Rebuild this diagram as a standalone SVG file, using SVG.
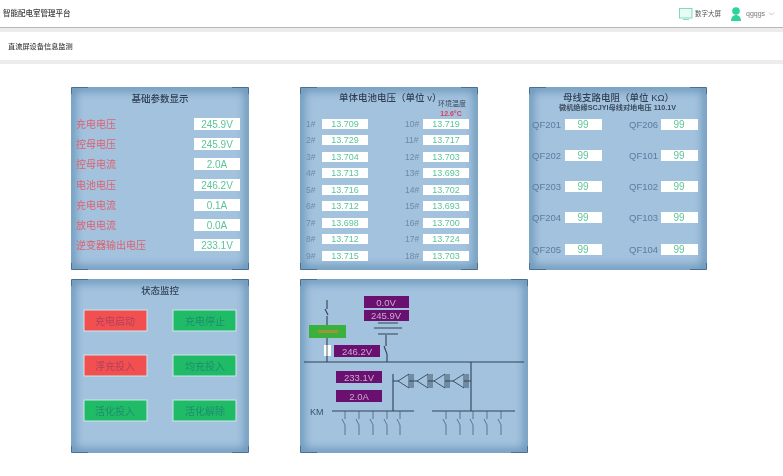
<svg xmlns="http://www.w3.org/2000/svg" width="783" height="476" viewBox="0 0 783 476">
<style>
text{font-family:"Liberation Sans","Noto Sans CJK SC",sans-serif;filter:blur(.25px)}
.nav{font-size:7.5px;fill:#3c3c3c;font-weight:500}
.pt{font-size:9.500px;fill:#2f3f52;font-weight:500}
.m{text-anchor:middle}
.lab{font-size:10px;fill:#e0606f}
.box{fill:#fff}
.val{font-size:10px;fill:#5cc49a;text-anchor:middle}
.v9{font-size:9px;fill:#5cc49a;text-anchor:middle}
.n{font-size:8.500px;fill:#6f8aa5}
.qf{font-size:9.500px;fill:#5a7c9e}
.btn{stroke:#cfe6e6;stroke-width:1}
.bt{font-size:10px;text-anchor:middle}
.pb{fill:#6a1070}
.pv{font-size:9.500px;fill:#cbaace;text-anchor:middle}
.l{fill:none;stroke:#2f4256;stroke-width:1.100}
.t{fill:#a3c2de;stroke:#33475a;stroke-width:.9}
.bar{fill:none;stroke:#33475a;stroke-width:.9}
.sw{fill:none;stroke:#4a6078;stroke-width:.8}
.pn{fill:#a3c2de}
.sh{fill:none;stroke:#5a8ab0;stroke-width:7}
.cr{fill:none;stroke:#4c6f90;stroke-width:1}
</style>
<defs>
<filter id="b" x="-20%" y="-20%" width="140%" height="140%"><feGaussianBlur stdDeviation="5"/></filter>
<clipPath id="c1"><rect x="71" y="87" width="178" height="183" rx="3"/></clipPath>
<clipPath id="c2"><rect x="300" y="87" width="178" height="183" rx="3"/></clipPath>
<clipPath id="c3"><rect x="529" y="87" width="178" height="183" rx="3"/></clipPath>
<clipPath id="c4"><rect x="71" y="279" width="178" height="174" rx="3"/></clipPath>
<clipPath id="c5"><rect x="300" y="279" width="228" height="174" rx="3"/></clipPath>
<g id="sw1"><path class="sw" d="M0 0V8M-3 8 0 14V24"/></g>
<g id="di"><path class="t" d="M0 7 11 0V14Z"/><path class="bar" d="M13 0V14M15 0V14"/></g>
</defs>
<rect width="783" height="476" fill="#fff"/>
<g id="header">
<rect y="27" width="783" height="1" fill="#b5b8b8"/>
<rect y="28" width="783" height="4" fill="#ececec"/>
<rect y="60" width="783" height="4" fill="#ececec"/>
<text x="3" y="16" class="nav">智能配电室管理平台</text>
<text x="8" y="49" class="nav" style="font-size:7.200px">直流屏设备信息监测</text>
<rect x="679.500" y="8.500" width="12.500" height="9.500" fill="#eafaf5" stroke="#5fd4b8" stroke-width=".8"/>
<path d="M683 19.500h6" stroke="#5fd4b8" stroke-width=".8"/>
<text x="695" y="15.500" style="font-size:6.500px;fill:#555">数字大屏</text>
<circle cx="736" cy="11" r="3.800" fill="#2ed39a"/>
<path d="M731 21c0-8 10-8 10 0Z" fill="#2ed39a"/>
<text x="746" y="15.500" style="font-size:7px;fill:#777">qgqgs</text>
<path d="M769 12.500l2.500 2.500 2.500-2.500" fill="none" stroke="#aaa" stroke-width=".7"/>
</g>
<g id="panel-basic">
<rect class="pn" x="71" y="87" width="178" height="183" rx="3"/>
<g clip-path="url(#c1)"><rect class="sh" x="71" y="87" width="178" height="183" filter="url(#b)"/></g>
<path class="cr" d="M71.500 94V87.500H88M232 87.500H248.500V94M71.500 263V269.500H88M232 269.500H248.500V263"/>
<text x="160" y="101.500" class="pt m">基础参数显示</text>
<g class="lab"><text x="76" y="128">充电电压</text><text x="76" y="148">控母电压</text><text x="76" y="168">控母电流</text><text x="76" y="189">电池电压</text><text x="76" y="209">充电电流</text><text x="76" y="229">放电电流</text><text x="76" y="249">逆变器输出电压</text></g>
<rect class="box" x="194" y="118" width="46" height="12"/><rect class="box" x="194" y="138" width="46" height="12"/><rect class="box" x="194" y="158" width="46" height="12"/><rect class="box" x="194" y="179" width="46" height="12"/><rect class="box" x="194" y="199" width="46" height="12"/><rect class="box" x="194" y="219" width="46" height="12"/><rect class="box" x="194" y="239" width="46" height="12"/>
<text x="217" y="128" class="val">245.9V</text><text x="217" y="148" class="val">245.9V</text><text x="217" y="168" class="val">2.0A</text><text x="217" y="189" class="val">246.2V</text><text x="217" y="209" class="val">0.1A</text><text x="217" y="229" class="val">0.0A</text><text x="217" y="249" class="val">233.1V</text>
</g>
<g id="panel-cells">
<rect class="pn" x="300" y="87" width="178" height="183" rx="3"/>
<g clip-path="url(#c2)"><rect class="sh" x="300" y="87" width="178" height="183" filter="url(#b)"/></g>
<path class="cr" d="M300.500 94V87.500H317M461 87.500H477.500V94M300.500 263V269.500H317M461 269.500H477.500V263"/>
<text x="339" y="101" class="pt">单体电池电压（单位 v）</text>
<text x="452" y="106" style="font-size:7px;fill:#3a4a5c;text-anchor:middle">环境温度</text>
<text x="451" y="116" style="font-size:7px;font-weight:bold;fill:#d8405a;text-anchor:middle">12.6°C</text>
<g class="n"><text x="306" y="127">1#</text><text x="306" y="143">2#</text><text x="306" y="160">3#</text><text x="306" y="176">4#</text><text x="306" y="193">5#</text><text x="306" y="209">6#</text><text x="306" y="226">7#</text><text x="306" y="242">8#</text><text x="306" y="259">9#</text>
<text x="405" y="127">10#</text><text x="405" y="143">11#</text><text x="405" y="160">12#</text><text x="405" y="176">13#</text><text x="405" y="193">14#</text><text x="405" y="209">15#</text><text x="405" y="226">16#</text><text x="405" y="242">17#</text><text x="405" y="259">18#</text></g>
<g class="box"><rect x="322" y="119" width="46" height="10"/><rect x="322" y="135" width="46" height="10"/><rect x="322" y="152" width="46" height="10"/><rect x="322" y="168" width="46" height="10"/><rect x="322" y="185" width="46" height="10"/><rect x="322" y="201" width="46" height="10"/><rect x="322" y="218" width="46" height="10"/><rect x="322" y="234" width="46" height="10"/><rect x="322" y="251" width="46" height="10"/>
<rect x="423" y="119" width="46" height="10"/><rect x="423" y="135" width="46" height="10"/><rect x="423" y="152" width="46" height="10"/><rect x="423" y="168" width="46" height="10"/><rect x="423" y="185" width="46" height="10"/><rect x="423" y="201" width="46" height="10"/><rect x="423" y="218" width="46" height="10"/><rect x="423" y="234" width="46" height="10"/><rect x="423" y="251" width="46" height="10"/></g>
<g class="v9"><text x="345" y="127">13.709</text><text x="345" y="143">13.729</text><text x="345" y="160">13.704</text><text x="345" y="176">13.713</text><text x="345" y="193">13.716</text><text x="345" y="209">13.712</text><text x="345" y="226">13.698</text><text x="345" y="242">13.712</text><text x="345" y="259">13.715</text>
<text x="446" y="127">13.719</text><text x="446" y="143">13.717</text><text x="446" y="160">13.703</text><text x="446" y="176">13.693</text><text x="446" y="193">13.702</text><text x="446" y="209">13.693</text><text x="446" y="226">13.700</text><text x="446" y="242">13.724</text><text x="446" y="259">13.703</text></g>
</g>
<g id="panel-branches">
<rect class="pn" x="529" y="87" width="178" height="183" rx="3"/>
<g clip-path="url(#c3)"><rect class="sh" x="529" y="87" width="178" height="183" filter="url(#b)"/></g>
<path class="cr" d="M529.500 94V87.500H546M690 87.500H706.500V94M529.500 263V269.500H546M690 269.500H706.500V263"/>
<text x="563" y="100.500" class="pt">母线支路电阻（单位 KΩ）</text>
<text x="617.500" y="110" style="font-size:7.200px;font-weight:bold;fill:#3a4a5c;text-anchor:middle">微机绝缘SCJYI母线对地电压 110.1V</text>
<g class="qf"><text x="532" y="128">QF201</text><text x="532" y="159">QF202</text><text x="532" y="190">QF203</text><text x="532" y="221">QF204</text><text x="532" y="253">QF205</text>
<text x="629" y="128">QF206</text><text x="629" y="159">QF101</text><text x="629" y="190">QF102</text><text x="629" y="221">QF103</text><text x="629" y="253">QF104</text></g>
<g class="box"><rect x="565" y="119" width="37" height="11"/><rect x="565" y="150" width="37" height="11"/><rect x="565" y="181" width="37" height="11"/><rect x="565" y="212" width="37" height="11"/><rect x="565" y="244" width="37" height="11"/>
<rect x="661" y="119" width="37" height="11"/><rect x="661" y="150" width="37" height="11"/><rect x="661" y="181" width="37" height="11"/><rect x="661" y="212" width="37" height="11"/><rect x="661" y="244" width="37" height="11"/></g>
<g class="val"><text x="583" y="128">99</text><text x="583" y="159">99</text><text x="583" y="190">99</text><text x="583" y="221">99</text><text x="583" y="253">99</text>
<text x="679" y="128">99</text><text x="679" y="159">99</text><text x="679" y="190">99</text><text x="679" y="221">99</text><text x="679" y="253">99</text></g>
</g>
<g id="panel-status">
<rect class="pn" x="71" y="279" width="178" height="174" rx="3"/>
<g clip-path="url(#c4)"><rect class="sh" x="71" y="279" width="178" height="174" filter="url(#b)"/></g>
<path class="cr" d="M71.500 286V279.500H88M232 279.500H248.500V286M71.500 446V452.500H88M232 452.500H248.500V446"/>
<text x="160" y="293.500" class="pt m">状态监控</text>
<rect class="btn" x="84" y="310" width="63" height="21" fill="#f25050"/><text x="115" y="325" class="bt" fill="#b0405e">充电启动</text>
<rect class="btn" x="173" y="310" width="63" height="21" fill="#20bb66"/><text x="205" y="325" class="bt" fill="#1f8c72">充电停止</text>
<rect class="btn" x="84" y="355" width="63" height="21" fill="#f25050"/><text x="115" y="370" class="bt" fill="#b0405e">浮充投入</text>
<rect class="btn" x="173" y="355" width="63" height="21" fill="#20bb66"/><text x="205" y="370" class="bt" fill="#1f8c72">均充投入</text>
<rect class="btn" x="84" y="400" width="63" height="21" fill="#20bb66"/><text x="115" y="415" class="bt" fill="#1f8c72">活化投入</text>
<rect class="btn" x="173" y="400" width="63" height="21" fill="#20bb66"/><text x="205" y="415" class="bt" fill="#1f8c72">活化解除</text>
</g>
<g id="panel-circuit">
<rect class="pn" x="300" y="279" width="228" height="174" rx="3"/>
<g clip-path="url(#c5)"><rect class="sh" x="300" y="279" width="228" height="174" filter="url(#b)"/></g>
<path class="cr" d="M300.500 286V279.500H317M511 279.500H527.500V286M300.500 446V452.500H317M511 452.500H527.500V446"/>
<g id="connectors">
<path class="l" d="M304 362H524M327 300V309M325 309 328 315M327 316V362M386 335V346M384 346 387 354V362"/>
<path class="l" d="M378 323H398M374 328H402M378 334H398"/>
<path class="l" d="M332 411H414M432 411H515M393 374V411M471 362V411M393 381H471"/>
<use href="#di" x="398" y="374"/><use href="#di" x="417" y="374"/><use href="#di" x="434" y="374"/><use href="#di" x="453" y="374"/>
<use href="#sw1" x="345" y="411"/><use href="#sw1" x="359" y="411"/><use href="#sw1" x="373" y="411"/><use href="#sw1" x="387" y="411"/><use href="#sw1" x="400" y="411"/>
<use href="#sw1" x="446" y="411"/><use href="#sw1" x="460" y="411"/><use href="#sw1" x="473" y="411"/><use href="#sw1" x="487" y="411"/><use href="#sw1" x="501" y="411"/>
</g>
<rect class="pb" x="364" y="296" width="45" height="12"/><text x="386" y="306" class="pv">0.0V</text>
<rect class="pb" x="364" y="310" width="45" height="11"/><text x="386" y="319" class="pv">245.9V</text>
<rect x="309" y="325" width="37" height="13" fill="#3cb03c"/>
<rect x="318" y="330" width="20" height="3" fill="#c08a3a" opacity=".7"/>
<rect x="324" y="345" width="7" height="11" fill="#fff"/>
<path d="M327 345V356" stroke="#2f4256" stroke-width=".8"/>
<rect class="pb" x="334" y="345" width="46" height="12"/><text x="357" y="355" class="pv">246.2V</text>
<rect class="pb" x="336" y="371" width="46" height="12"/><text x="359" y="381" class="pv">233.1V</text>
<rect class="pb" x="336" y="390" width="46" height="12"/><text x="359" y="400" class="pv">2.0A</text>
<text x="310" y="415" style="font-size:9px;fill:#3a5068">KM</text>
</g>
</svg>
